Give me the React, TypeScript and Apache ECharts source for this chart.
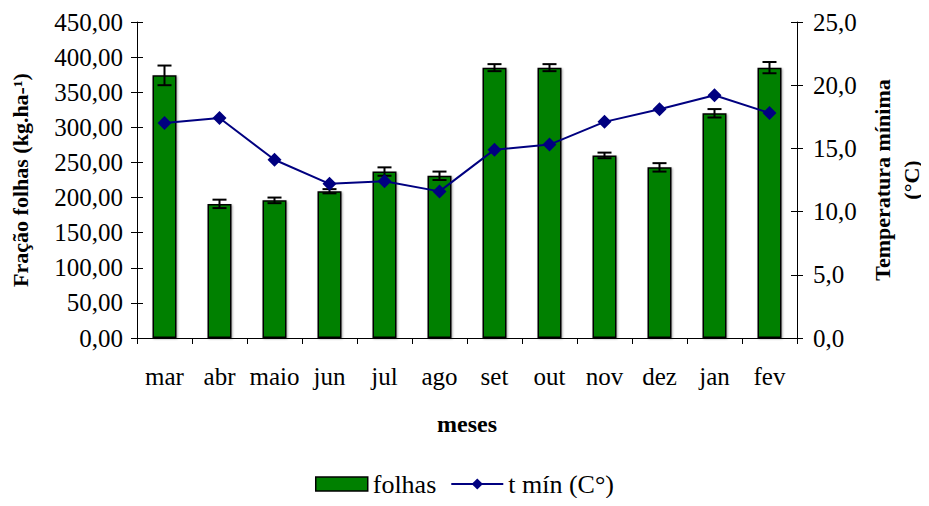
import React, { useEffect, useRef } from "react";
import * as echarts from "echarts";

const months = ["mar", "abr", "maio", "jun", "jul", "ago", "set", "out", "nov", "dez", "jan", "fev"];
const folhas = [374, 191, 196, 209, 237, 231, 385, 385, 260, 243, 320, 385];
const folhasErr = [14, 6, 4, 3, 6, 6, 5, 5, 4, 6, 6, 8];
const tMin = [17.0, 17.4, 14.1, 12.2, 12.4, 11.6, 14.9, 15.3, 17.1, 18.1, 19.2, 17.8];

const FONT = "Liberation Serif";

export default function App() {
  const ref = useRef<HTMLDivElement>(null);
  useEffect(() => {
    if (!ref.current) return;
    const chart = echarts.init(ref.current, undefined, { renderer: "svg" });
    const errData = folhas.map((v, i) => [i, v - folhasErr[i], v + folhasErr[i]]);
    const leftCommon = {
      min: 0,
      max: 450,
      interval: 50,
      splitLine: { show: false },
    };
    const rightCommon = {
      min: 0,
      max: 25,
      interval: 5,
      splitLine: { show: false },
    };
    chart.setOption({
      animation: false,
      textStyle: { fontFamily: FONT },
      grid: { left: 137, right: 132, top: 22, bottom: 168, containLabel: false, outerBoundsMode: "none" },
      legend: {
        bottom: 4,
        left: "center",
        itemWidth: 52,
        itemHeight: 14,
        itemGap: 14,
        textStyle: { fontFamily: FONT, fontSize: 26, color: "#000" },
        data: [
          { name: "folhas", icon: "rect", itemStyle: { color: "#008000", borderColor: "#000", borderWidth: 1.5 } },
          { name: "t mín (C°)" },
        ],
      },
      xAxis: {
        type: "category",
        data: months,
        name: "meses",
        nameLocation: "middle",
        nameGap: 74,
        nameTextStyle: { fontFamily: FONT, fontSize: 24, fontWeight: "bold", color: "#000" },
        axisLine: { lineStyle: { color: "#000", width: 1 } },
        axisTick: { show: true, length: 6, alignWithLabel: false, interval: 0, lineStyle: { color: "#000" } },
        axisLabel: { fontFamily: FONT, fontSize: 25, color: "#000", margin: 26, interval: 0 },
      },
      yAxis: [
        {
          ...leftCommon,
          type: "value",
          position: "left",
          name: "Fração folhas (kg.ha-¹)",
          nameLocation: "middle",
          nameGap: 106,
          nameRotate: 90,
          nameTextStyle: { fontFamily: FONT, fontSize: 22, fontWeight: "bold", color: "#000" },
          axisLine: { show: true, lineStyle: { color: "#000" } },
          axisTick: { show: true, length: 6, lineStyle: { color: "#000" } },
          axisLabel: {
            fontFamily: FONT,
            fontSize: 25,
            color: "#000",
            margin: 14,
            formatter: (v: number) => v.toFixed(2).replace(".", ","),
          },
        },
        {
          ...rightCommon,
          type: "value",
          position: "right",
          name: "Temperatura mínima\n(°C)",
          nameLocation: "middle",
          nameGap: 69,
          nameRotate: 90,
          nameTextStyle: { fontFamily: FONT, fontSize: 22, fontWeight: "bold", color: "#000", lineHeight: 29 },
          axisLine: { show: true, lineStyle: { color: "#000" } },
          axisTick: { show: true, length: 6, lineStyle: { color: "#000" } },
          axisLabel: {
            fontFamily: FONT,
            fontSize: 25,
            color: "#000",
            margin: 16,
            formatter: (v: number) => v.toFixed(1).replace(".", ","),
          },
        },
        {
          ...leftCommon,
          type: "value",
          position: "left",
          axisLine: { show: false },
          axisTick: { show: true, inside: true, length: 6, lineStyle: { color: "#000" } },
          axisLabel: { show: false },
        },
        {
          ...rightCommon,
          type: "value",
          position: "right",
          axisLine: { show: false },
          axisTick: { show: true, inside: true, length: 6, lineStyle: { color: "#000" } },
          axisLabel: { show: false },
        },
      ],
      series: [
        {
          name: "folhas",
          type: "bar",
          yAxisIndex: 0,
          data: folhas,
          barWidth: 24,
          itemStyle: {
            color: "#008000",
            borderColor: "#000",
            borderWidth: 1.5,
            shadowColor: "rgba(0,0,0,0.35)",
            shadowBlur: 2,
            shadowOffsetX: 1,
            shadowOffsetY: 1,
          },
        },
        {
          name: "erro",
          type: "custom",
          yAxisIndex: 0,
          data: errData,
          z: 5,
          renderItem: (params: any, api: any) => {
            const x = api.value(0);
            const lo = api.coord([x, api.value(1)]);
            const hi = api.coord([x, api.value(2)]);
            const w = 7;
            const style = { stroke: "#000", lineWidth: 2 };
            return {
              type: "group",
              children: [
                { type: "line", shape: { x1: lo[0], y1: lo[1], x2: hi[0], y2: hi[1] }, style },
                { type: "line", shape: { x1: lo[0] - w, y1: lo[1], x2: lo[0] + w, y2: lo[1] }, style },
                { type: "line", shape: { x1: hi[0] - w, y1: hi[1], x2: hi[0] + w, y2: hi[1] }, style },
              ],
            };
          },
        },
        {
          name: "t mín (C°)",
          type: "line",
          yAxisIndex: 1,
          data: tMin,
          z: 10,
          symbol: "diamond",
          symbolSize: 14,
          lineStyle: { color: "#000080", width: 2 },
          itemStyle: { color: "#000080" },
        },
      ],
    });
    return () => chart.dispose();
  }, []);
  return <div ref={ref} style={{ width: 929, height: 506, margin: -8 }} />;
}
